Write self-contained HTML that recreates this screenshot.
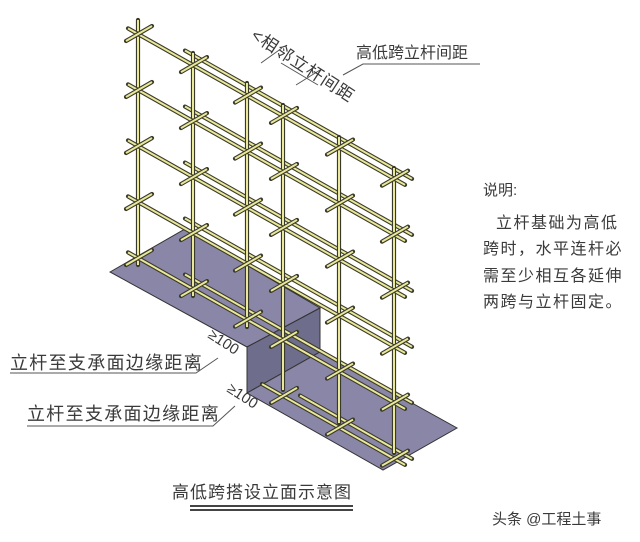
<!DOCTYPE html>
<html><head><meta charset="utf-8"><style>
html,body{margin:0;padding:0;background:#fff;}
svg{display:block;}
text{font-family:"Liberation Sans","Noto Sans CJK SC",sans-serif;fill:#3a3a3a;}
</style></head><body>
<svg id="s" width="640" height="542" viewBox="0 0 640 542" xmlns="http://www.w3.org/2000/svg">
<polygon points="110,272 185,229 320,308 247,347" fill="#8a86a8" stroke="#333" stroke-width="1"/>
<polygon points="247,347 320,308 320,352 247,393" fill="#6e6d8c" stroke="#333" stroke-width="1"/>
<polygon points="247,393 320,352 457,428 383,470" fill="#8a86a8" stroke="#333" stroke-width="1"/>
<g id="sc"></g>
<text x="356" y="58" font-size="16">高低跨立杆间距</text>
<polyline points="343,75 363,64 480,64" fill="none" stroke="#555" stroke-width="1"/>
<line x1="261" y1="63" x2="282" y2="48" stroke="#555" stroke-width="1"/>
<line x1="296" y1="85" x2="320" y2="70" stroke="#555" stroke-width="1"/>
<line x1="281" y1="63" x2="318" y2="85" stroke="#555" stroke-width="1"/>
<text x="0" y="0" font-size="17" letter-spacing="1" transform="translate(250,38) rotate(33)">&lt;相邻立杆间距</text>
<text x="10" y="369" font-size="18" letter-spacing="1.3">立杆至支承面边缘距离</text>
<polyline points="10,373 196,373 218,358" fill="none" stroke="#555" stroke-width="1"/>
<text x="0" y="0" font-size="15" transform="translate(207,337) rotate(33)">≥100</text>
<text x="27" y="420" font-size="18" letter-spacing="1.3">立杆至支承面边缘距离</text>
<polyline points="27,426 213,426 235,406" fill="none" stroke="#555" stroke-width="1"/>
<text x="0" y="0" font-size="15" transform="translate(226,391) rotate(33)">≥100</text>
<text x="483" y="195" font-size="15">说明:</text>
<text x="496" y="228" font-size="16" letter-spacing="1.5">立杆基础为高低</text>
<text x="483" y="254" font-size="16" letter-spacing="1.5">跨时，水平连杆必</text>
<text x="483" y="281" font-size="16" letter-spacing="1.5">需至少相互各延伸</text>
<text x="483" y="307" font-size="16" letter-spacing="1.5">两跨与立杆固定。</text>
<text x="172" y="498" font-size="17" letter-spacing="1">高低跨搭设立面示意图</text>
<rect x="190" y="505" width="163" height="2" fill="#444"/>
<rect x="190" y="509" width="163" height="2" fill="#444"/>
<text x="492" y="524" font-size="15" fill="#555">头条 @工程土事</text>
</svg>
<script>
var g=document.getElementById('sc'),NS='http://www.w3.org/2000/svg';
function rod(x1,y1,x2,y2){
 var a=document.createElementNS(NS,'line');a.setAttribute('x1',x1);a.setAttribute('y1',y1);a.setAttribute('x2',x2);a.setAttribute('y2',y2);a.setAttribute('stroke','#3a3a2a');a.setAttribute('stroke-width','4.2');a.setAttribute('stroke-linecap','round');g.appendChild(a);
 var b=document.createElementNS(NS,'line');b.setAttribute('x1',x1);b.setAttribute('y1',y1);b.setAttribute('x2',x2);b.setAttribute('y2',y2);b.setAttribute('stroke','#e9e89a');b.setAttribute('stroke-width','2');g.appendChild(b);
}
var k=0.565;
function Y(y0,x){return y0+k*(x-138);}
var lv=[28,84,140,196,252];
lv.forEach(function(y0){rod(185,Y(y0,185)-4,412,Y(y0,412)-4);});
rod(300,Y(308,300)-4,412,Y(308,412)-4);
var P=[[138,20,265],[193,53,296],[247,83,327],[283,105,390],[339,137,423],[394,168,453]];
P.forEach(function(p){rod(p[0],p[1],p[0],p[2]);});
lv.forEach(function(y0){rod(128,Y(y0,128)+6,405,Y(y0,405)+6);});
rod(262,Y(308,262)+6,405,Y(308,405)+6);
P.forEach(function(p){
 lv.concat([308]).forEach(function(y0){
  var y=Y(y0,p[0])+6;
  if(y>p[1]+5&&y<p[2]+8) rod(p[0]-12,y+7,p[0]+14,y-8);
 });
});
</script>
</body></html>
